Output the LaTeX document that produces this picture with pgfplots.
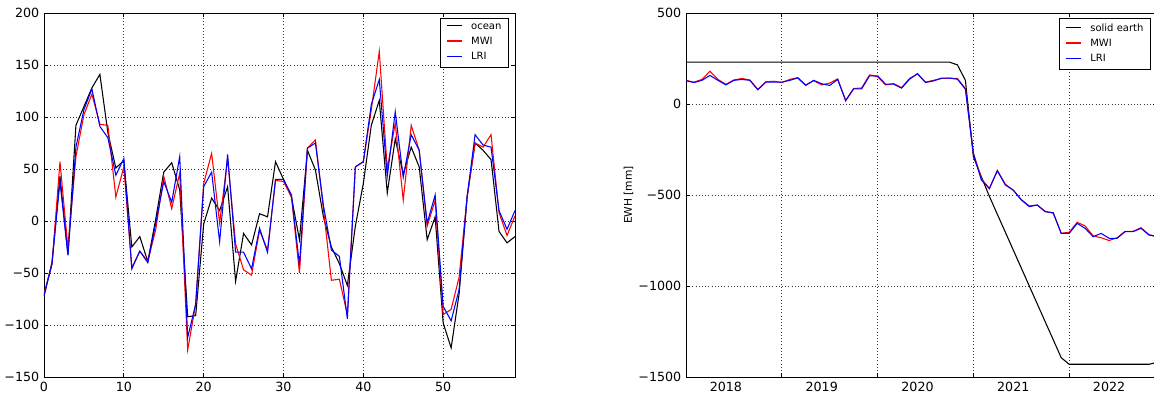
\documentclass[border=0pt]{standalone}
\usepackage{fontspec}
\setmainfont{DejaVu Sans}
\usepackage{pgfplots}
\pgfplotsset{compat=1.18}
\usepackage{pgfplotstable}

\pgfplotstableread{
i ocean mwi lri
0 -72 -70 -72
1 -40 -42 -41
2 43 57 38
3 -32 -26 -33
4 92 62 71
5 110 102 107
6 128 122 127
7 141 93 91
8 85 92 80
9 51 23 44
10 58 52 60
11 -25 -45 -46
12 -15 -29 -29
13 -39 -39 -40
14 2 -8 -2
15 47 43 38
16 56 12 18
17 30 46 62
18 -92 -124 -112
19 -91 -80 -80
20 -3 36 33
21 22 65 47
22 10 -2 -20
23 33 60 64
24 -58 -22 -30
25 -12 -47 -30
26 -23 -52 -46
27 7 -9 -7
28 4 -28 -30
29 57 39 40
30 40 38 40
31 23 23 25
32 -18 -50 -42
33 68 70 70
34 49 78 75
35 4 12 15
36 -25 -57 -28
37 -41 -56 -34
38 -62 -90 -94
39 -5 52 52
40 36 57 57
41 92 107 112
42 116 163 136
43 27 50 43
44 79 94 105
45 45 20 42
46 71 92 83
47 52 68 68
48 -18 -5 -2
49 4 20 25
50 -98 -90 -82
51 -122 -85 -96
52 -70 -54 -66
53 23 23 23
54 75 75 83
55 68 71 73
56 59 83 71
57 -10 8 10
58 -21 -14 -8
59 -15 5 10
}\leftdata

\pgfplotstableread{
k solid mwi lri
0 230 130 128
1 230 120 118
2 230 135 130
3 230 180 157
4 230 135 130
5 230 108 105
6 230 132 130
7 230 140 135
8 230 132 130
9 230 80 78
10 230 122 120
11 230 125 120
12 230 118 120
13 230 135 130
14 230 145 143
15 230 105 102
16 230 128 130
17 230 105 111
18 230 115 102
19 230 138 135
20 230 20 18
21 230 85 83
22 230 88 83
23 230 160 155
24 230 150 155
25 230 105 109
26 230 112 109
27 230 90 87
28 230 140 136
29 230 165 167
30 230 120 118
31 230 130 127
32 230 140 142
33 230 142 142
34 215 140 136
35 130 85 82
36 -290 -270 -273
37 -400 -410 -418
38 -507 -465 -464
39 -606 -365 -367
40 -704 -440 -445
41 -803 -475 -473
42 -901 -525 -527
43 -1000 -560 -564
44 -1098 -555 -555
45 -1197 -590 -592
46 -1295 -600 -597
47 -1394 -710 -711
48 -1430 -705 -711
49 -1430 -650 -656
50 -1430 -670 -683
51 -1430 -725 -729
52 -1430 -735 -711
53 -1430 -750 -738
54 -1430 -735 -738
55 -1430 -700 -701
56 -1430 -700 -701
57 -1430 -680 -683
58 -1430 -718 -720
59 -1420 -728 -729
}\rightdata

\newcommand{\legline}[1]{\textcolor{#1}{\rule[2.1pt]{11pt}{0.9pt}}\hspace{7pt}}

\pgfplotsset{
  myaxis/.style={
    scale only axis, width=353.25pt, height=273pt,
    anchor=south west,
    axis line style={line width=0.7pt},
    grid=major, grid style={dotted, black!80, line width=0.5pt},
    tick style={black, line width=0.5pt}, major tick length=3pt,
    tick label style={font=\fontsize{9.5}{11}\selectfont},
    legend cell align=left,
    legend plot pos=none,
    legend style={at={(1,1)}, anchor=north east, xshift=-4.5pt, yshift=-3.75pt,
      font=\fontsize{7.5}{9}\selectfont,
      row sep=0.5pt, inner xsep=3.5pt, inner ysep=2pt},
  },
}

\begin{document}
\begin{tikzpicture}[x=0.75pt,y=0.75pt]
\path[use as bounding box] (0,0) rectangle (1154,400);
\clip (0,0) rectangle (1154,400);

\begin{axis}[myaxis, at={(33pt,17.25pt)},
  xmin=0, xmax=59, ymin=-150, ymax=200,
  xtick={0,10,20,30,40,50},
  ytick={-150,-100,-50,0,50,100,150,200},
  yticklabels={−150,−100,−50,0,50,100,150,200},
  xticklabels={0,10,20,30,40,50},
]
\addplot[black, line width=0.8pt] table[x=i,y=ocean] {\leftdata};
\addlegendentry{\legline{black}ocean}
\addplot[red, line width=0.8pt] table[x=i,y=mwi] {\leftdata};
\addlegendentry{\legline{red}MWI}
\addplot[blue, line width=0.8pt] table[x=i,y=lri] {\leftdata};
\addlegendentry{\legline{blue}LRI}
\end{axis}

\begin{axis}[myaxis, at={(514.5pt,17.25pt)},
  xmin=0, xmax=59, ymin=-1500, ymax=500,
  xtick={12,24,36,48}, xticklabels={},
  extra x ticks={5,17,29,41,53},
  extra x tick labels={2018,2019,2020,2021,2022},
  extra x tick style={grid=none, major tick length=0pt},
  ytick={-1500,-1000,-500,0,500},
  yticklabels={−1500,−1000,−500,0,500},
  ylabel={EWH [mm]},
  ylabel style={font=\fontsize{8}{10}\selectfont, yshift=-3pt},
]
\addplot[black, line width=0.8pt] table[x=k,y=solid] {\rightdata};
\addlegendentry{\legline{black}solid earth}
\addplot[red, line width=0.8pt] table[x=k,y=mwi] {\rightdata};
\addlegendentry{\legline{red}MWI}
\addplot[blue, line width=0.8pt] table[x=k,y=lri] {\rightdata};
\addlegendentry{\legline{blue}LRI}
\end{axis}
\end{tikzpicture}
\end{document}
